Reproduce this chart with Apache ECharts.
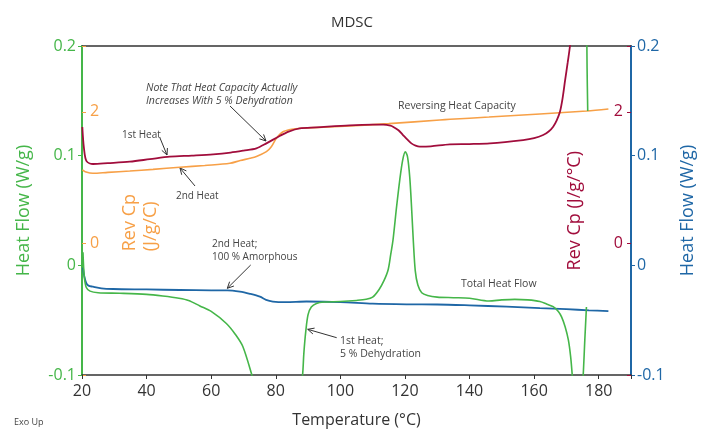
<!DOCTYPE html>
<html>
<head>
<meta charset="utf-8">
<script src="https://cdn.jsdelivr.net/npm/echarts@6/dist/echarts.min.js"></script>
<style>html,body{margin:0;padding:0;background:#fff;overflow:hidden;}#c{width:704px;height:429px;}</style>
</head>
<body>
<div id="c"></div>
<script>
// ---- data (Temperature °C, value) ----
var xTicks = [20, 40, 60, 80, 100, 120, 140, 160, 180];
var heatFlowTicks = [-0.1, 0, 0.1, 0.2];
var revCpTicks = [0, 2];

// 1st heat total heat flow (W/g)
var firstHeatFlow = [
  [20.3, 0.012], [20.7, -0.010], [21.3, -0.020], [22.5, -0.0235], [25, -0.025], [31.7, -0.0255],
  [40, -0.0265], [45, -0.028], [50, -0.030], [53, -0.032], [56.5, -0.037], [60, -0.042],
  [64.7, -0.053], [67.5, -0.063], [69.8, -0.074], [72.6, -0.1], [75, -0.125], [80, -0.16],
  [85, -0.16], [87, -0.13], [88.3, -0.1], [88.7, -0.08], [89.3, -0.06], [90, -0.045],
  [91, -0.038], [92.6, -0.0347], [95, -0.0335], [100, -0.033], [105, -0.032], [108, -0.031],
  [110, -0.029], [112, -0.022], [113.5, -0.014], [114.8, -0.004], [115.6, 0.010], [116.3, 0.023],
  [117.4, 0.053], [118.4, 0.078], [119.3, 0.096], [120.1, 0.1035], [120.8, 0.099], [121.5, 0.080],
  [122.1, 0.050], [122.6, 0.022], [123.2, -0.005], [124, -0.018], [125.2, -0.025], [127, -0.0275],
  [130, -0.029], [135, -0.0295], [140, -0.030], [146, -0.0325], [150, -0.0315], [154, -0.031],
  [158, -0.0315], [161.8, -0.033], [164, -0.0355], [165.9, -0.0377], [167.5, -0.042], [168.5, -0.047],
  [169.6, -0.056], [170.6, -0.068], [171.3, -0.083], [171.8, -0.1], [172.5, -0.13], [174.5, -0.13],
  [175.2, -0.1], [175.7, -0.068], [176.2, -0.038], [176.4, '-'], [176.6, 0.1407], [176.4, 0.18], [176.2, 0.25]
];
// 2nd heat total heat flow (W/g)
var secondHeatFlow = [
  [20.3, -0.002], [20.7, -0.010], [21.3, -0.016], [22, -0.0185], [23.4, -0.0195], [26, -0.021],
  [29.6, -0.0216], [40, -0.022], [50.3, -0.0225], [60, -0.0228], [65, -0.0228], [68.9, -0.024],
  [72, -0.026], [75.1, -0.0286], [77, -0.0315], [79.1, -0.033], [83, -0.0335], [89.5, -0.033],
  [100, -0.0335], [110, -0.035], [120.5, -0.0356], [130, -0.0357], [140, -0.0365], [151.5, -0.0377],
  [161.8, -0.039], [170, -0.040], [177, -0.041], [183, -0.0417]
];
// 2nd heat reversing Cp (J/g/°C)
var secondHeatCp = [
  [20.1, 1.116], [21, 1.09], [23.4, 1.065], [28, 1.08], [34.8, 1.10], [42, 1.125], [50.3, 1.157],
  [58, 1.185], [65.8, 1.217], [69, 1.26], [72, 1.293], [74, 1.32], [77.1, 1.394], [78.5, 1.46],
  [80.2, 1.597], [82.4, 1.70], [85.5, 1.739], [90, 1.755], [103, 1.784], [115, 1.82], [130.8, 1.875],
  [134, 1.886], [146, 1.92], [161.8, 1.967], [176.3, 2.012], [183, 2.043]
];
// 1st heat reversing Cp (J/g/°C)
var firstHeatCp = [
  [20.1, 1.77], [20.6, 1.45], [21.4, 1.25], [23.4, 1.207], [28, 1.22], [34.8, 1.242], [41, 1.28],
  [47.2, 1.318], [54, 1.335], [60.6, 1.354], [66, 1.38], [70, 1.41], [74, 1.445], [77.1, 1.52],
  [81.2, 1.632], [84, 1.70], [87.4, 1.749], [92.6, 1.764], [102.9, 1.795], [110, 1.805], [113.3, 1.804],
  [115.5, 1.79], [116.3, 1.774], [118, 1.72], [119.4, 1.647], [120.7, 1.58], [122, 1.52], [123.3, 1.485],
  [124.6, 1.47], [128, 1.475], [133.9, 1.506], [140, 1.51], [146.3, 1.52], [156.6, 1.571], [160, 1.60],
  [162.8, 1.647], [164.5, 1.70], [165.9, 1.774], [167, 1.87], [168, 2.0], [168.8, 2.2], [169.6, 2.48],
  [170.4, 2.75], [171.1, 3.0], [171.6, 3.3]
];

var GREEN = '#45b649', BLUE = '#1f67a6', ORANGE = '#f7a047', MAROON = '#a10d3c';
var FONT = 'Open Sans';
var TXT = '#444';

function arrow(x1, y1, x2, y2) {
  var a = Math.atan2(y2 - y1, x2 - x1), L = 7, w = 0.45;
  return {
    type: 'group', children: [
      {type: 'line', shape: {x1: x1, y1: y1, x2: x2, y2: y2}, style: {stroke: '#333', lineWidth: 1}},
      {type: 'polyline', shape: {points: [
        [x2 - L * Math.cos(a - w), y2 - L * Math.sin(a - w)], [x2, y2],
        [x2 - L * Math.cos(a + w), y2 - L * Math.sin(a + w)]]},
        style: {stroke: '#333', fill: null, lineWidth: 1}}
    ]
  };
}
function label(x, y, text, italic, size) {
  return {type: 'text', left: x, top: y, style: {text: text, fill: TXT, font: (italic ? 'italic ' : '') + (size || 10) + 'px "' + FONT + '"', lineHeight: 12.5}};
}

var chart = echarts.init(document.getElementById('c'), null, {renderer: 'canvas', width: 704, height: 429});
var showOnly = function (list) { return function (v) { return list.indexOf(Math.round(v * 1000) / 1000) >= 0 ? String(v) : ''; }; };

chart.setOption({
  animation: false,
  backgroundColor: '#fff',
  textStyle: {fontFamily: FONT},
  title: {text: 'MDSC', left: 'center', top: 10, textStyle: {fontSize: 15, fontWeight: 'normal', color: '#333', fontFamily: FONT}},
  grid: {left: 82, width: 549, top: 46, height: 329, containLabel: false, outerBoundsMode: 'none'},
  xAxis: [{
    type: 'value', min: 20, max: 190, interval: 20, position: 'bottom',
    name: 'Temperature (°C)', nameLocation: 'middle', nameGap: 37,
    nameTextStyle: {fontSize: 16, color: '#333', fontFamily: FONT},
    axisLine: {onZero: false, lineStyle: {color: '#333', width: 1.5}},
    axisTick: {show: true, length: 4, lineStyle: {color: '#333'}},
    axisLabel: {fontSize: 16, color: '#333', margin: 8, formatter: showOnly(xTicks)},
    splitLine: {show: false}
  }, {
    type: 'value', min: 20, max: 190, position: 'top',
    axisLine: {show: true, onZero: false, lineStyle: {color: '#333', width: 1.5}},
    axisTick: {show: false}, axisLabel: {show: false}, splitLine: {show: false}
  }],
  yAxis: [{
    type: 'value', min: -0.1, max: 0.2, interval: 0.1, position: 'left',
    name: 'Heat Flow (W/g)', nameLocation: 'middle', nameGap: 49,
    nameTextStyle: {fontSize: 18, color: GREEN, fontFamily: FONT},
    axisLine: {show: true, onZero: false, lineStyle: {color: GREEN, width: 2}},
    axisTick: {show: true, length: 4, lineStyle: {color: GREEN}},
    axisLabel: {fontSize: 16, color: GREEN, margin: 6, formatter: showOnly(heatFlowTicks)},
    splitLine: {show: false}
  }, {
    type: 'value', min: -2, max: 3, interval: 2, position: 'left',
    axisLine: {show: false, onZero: false},
    axisTick: {show: true, inside: true, length: 4, lineStyle: {color: ORANGE}},
    axisLabel: {inside: true, fontSize: 16, color: ORANGE, margin: 8, formatter: showOnly(revCpTicks)},
    splitLine: {show: false}
  }, {
    type: 'value', min: -0.1, max: 0.2, interval: 0.1, position: 'right',
    name: 'Heat Flow (W/g)', nameLocation: 'middle', nameGap: 48,
    nameTextStyle: {fontSize: 18, color: BLUE, fontFamily: FONT},
    axisLine: {show: true, onZero: false, lineStyle: {color: BLUE, width: 2}},
    axisTick: {show: true, length: 4, lineStyle: {color: BLUE}},
    axisLabel: {fontSize: 16, color: BLUE, margin: 6, formatter: showOnly(heatFlowTicks)},
    splitLine: {show: false}
  }, {
    type: 'value', min: -2, max: 3, interval: 2, position: 'right',
    axisLine: {show: false, onZero: false},
    axisTick: {show: true, inside: true, length: 4, lineStyle: {color: MAROON}},
    axisLabel: {inside: true, fontSize: 16, color: MAROON, margin: 8, formatter: showOnly(revCpTicks)},
    splitLine: {show: false}
  }],
  series: [
    {name: '1st Heat Total Heat Flow', type: 'line', xAxisIndex: 0, yAxisIndex: 0, data: firstHeatFlow,
      showSymbol: false, smooth: 0.3, connectNulls: false, lineStyle: {color: GREEN, width: 1.6}, itemStyle: {color: GREEN}, z: 3},
    {name: '2nd Heat Total Heat Flow', type: 'line', xAxisIndex: 0, yAxisIndex: 2, data: secondHeatFlow,
      showSymbol: false, smooth: 0.3, lineStyle: {color: BLUE, width: 1.8}, itemStyle: {color: BLUE}, z: 2},
    {name: '2nd Heat Rev Cp', type: 'line', xAxisIndex: 0, yAxisIndex: 1, data: secondHeatCp,
      showSymbol: false, smooth: 0.3, lineStyle: {color: ORANGE, width: 1.6}, itemStyle: {color: ORANGE}, z: 2},
    {name: '1st Heat Rev Cp', type: 'line', xAxisIndex: 0, yAxisIndex: 3, data: firstHeatCp,
      showSymbol: false, smooth: 0.3, lineStyle: {color: MAROON, width: 1.8}, itemStyle: {color: MAROON}, z: 3}
  ],
  graphic: [
    {type: 'text', left: 119, top: 194, rotation: Math.PI / 2,
      style: {text: 'Rev Cp\n(J/g/C)', fill: ORANGE, font: '18px "' + FONT + '"', lineHeight: 21, align: 'center'}},
    {type: 'text', left: 566, top: 151, rotation: Math.PI / 2,
      style: {text: 'Rev Cp (J/g/°C)', fill: MAROON, font: '18px "' + FONT + '"'}},
    label(146, 82, 'Note That Heat Capacity Actually\nIncreases With 5 % Dehydration', true, 10.5),
    arrow(230, 106, 266, 141),
    label(122, 129, '1st Heat'),
    arrow(160, 138, 167, 155),
    label(176, 190, '2nd Heat'),
    arrow(195, 186, 180, 168),
    label(398, 100, 'Reversing Heat Capacity', false, 10.5),
    label(212, 238, '2nd Heat;\n100 % Amorphous'),
    arrow(250.7, 265, 227.3, 288.3),
    label(461, 278, 'Total Heat Flow', false, 10.5),
    label(340, 335, '1st Heat;\n5 % Dehydration', false, 10.5),
    arrow(336.7, 337.7, 307.7, 329.3),
    label(14, 416, 'Exo Up', false, 9)
  ]
});
</script>
</body>
</html>
